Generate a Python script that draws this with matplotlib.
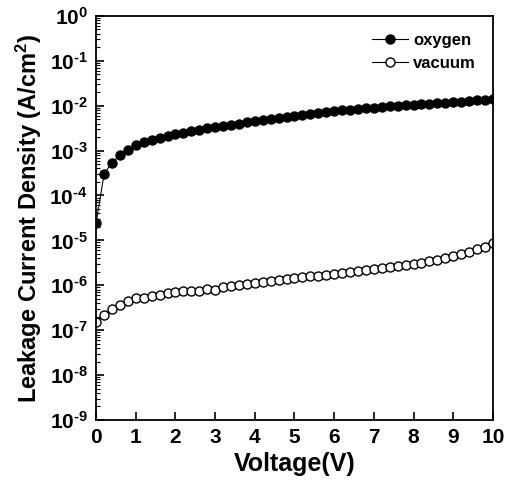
import numpy as np
import matplotlib
matplotlib.use('Agg')
import matplotlib.pyplot as plt
from matplotlib.ticker import LogLocator, FuncFormatter, NullFormatter

plt.rcParams['font.family'] = ['Liberation Sans', 'DejaVu Sans']
plt.rcParams['font.weight'] = 'bold'
plt.rcParams['mathtext.fontset'] = 'custom'
plt.rcParams['mathtext.rm'] = 'Liberation Sans:bold'
plt.rcParams['mathtext.bf'] = 'Liberation Sans:bold'
plt.rcParams['mathtext.default'] = 'bf'

# Bias voltage (V)
voltage = [0.0, 0.2, 0.4, 0.6, 0.8, 1.0, 1.2, 1.4, 1.6, 1.8,
           2.0, 2.2, 2.4, 2.6, 2.8, 3.0, 3.2, 3.4, 3.6, 3.8,
           4.0, 4.2, 4.4, 4.6, 4.8, 5.0, 5.2, 5.4, 5.6, 5.8,
           6.0, 6.2, 6.4, 6.6, 6.8, 7.0, 7.2, 7.4, 7.6, 7.8,
           8.0, 8.2, 8.4, 8.6, 8.8, 9.0, 9.2, 9.4, 9.6, 9.8, 10.0]

# Leakage current density (A/cm^2), annealed in oxygen
oxygen = [2.5e-5, 3.0e-4, 5.4e-4, 7.8e-4, 1.05e-3, 1.3e-3, 1.55e-3, 1.75e-3, 1.9e-3, 2.1e-3,
          2.3e-3, 2.5e-3, 2.7e-3, 2.9e-3, 3.1e-3, 3.3e-3, 3.5e-3, 3.75e-3, 4.0e-3, 4.25e-3,
          4.5e-3, 4.8e-3, 5.1e-3, 5.4e-3, 5.7e-3, 6.0e-3, 6.3e-3, 6.6e-3, 6.9e-3, 7.2e-3,
          7.5e-3, 7.8e-3, 8.1e-3, 8.4e-3, 8.7e-3, 9.0e-3, 9.3e-3, 9.6e-3, 9.9e-3, 1.02e-2,
          1.05e-2, 1.08e-2, 1.11e-2, 1.14e-2, 1.17e-2, 1.2e-2, 1.23e-2, 1.27e-2, 1.31e-2, 1.36e-2, 1.42e-2]

# Leakage current density (A/cm^2), annealed in vacuum
vacuum = [1.5e-7, 2.2e-7, 2.9e-7, 3.7e-7, 4.4e-7, 5.2e-7, 5.1e-7, 5.7e-7, 6.1e-7, 6.7e-7,
          7.0e-7, 7.4e-7, 7.6e-7, 7.6e-7, 8.4e-7, 7.9e-7, 9.2e-7, 9.8e-7, 1.03e-6, 1.08e-6,
          1.12e-6, 1.18e-6, 1.24e-6, 1.3e-6, 1.36e-6, 1.43e-6, 1.5e-6, 1.57e-6, 1.64e-6, 1.72e-6,
          1.8e-6, 1.88e-6, 1.97e-6, 2.06e-6, 2.16e-6, 2.26e-6, 2.37e-6, 2.5e-6, 2.63e-6, 2.78e-6,
          2.95e-6, 3.15e-6, 3.4e-6, 3.7e-6, 4.05e-6, 4.5e-6, 5.0e-6, 5.6e-6, 6.3e-6, 7.3e-6, 8.8e-6]


def decade_label(val, pos):
    n = int(round(np.log10(val)))
    if n < 0:
        return r'$10^{\text{-}%d}$' % (-n)
    return r'$10^{%d}$' % n


fig = plt.figure(figsize=(5.06, 4.80), dpi=100)
ax = fig.add_axes([0.19, 0.125, 0.784, 0.842])

ax.plot(voltage, oxygen, '-o', color='black', lw=0.8, ms=6.5,
        mfc='black', mec='black', label='oxygen')
ax.plot(voltage, vacuum, '-o', color='black', lw=0.8, ms=6.5,
        mfc='white', mec='black', mew=1.0, label='vacuum')

ax.set_yscale('log')
ax.set_xlim(0, 10)
ax.set_ylim(1e-9, 1)
ax.set_xticks(range(0, 11))
ax.yaxis.set_major_locator(LogLocator(base=10, numticks=12))
ax.yaxis.set_major_formatter(FuncFormatter(decade_label))
ax.yaxis.set_minor_locator(LogLocator(base=10, subs=np.arange(2, 10), numticks=12))
ax.yaxis.set_minor_formatter(NullFormatter())

ax.tick_params(axis='both', which='major', direction='in', length=6, width=1.2,
               labelsize=15, pad=6, right=False, top=False)
ax.tick_params(axis='y', which='minor', direction='in', length=3, width=0.8, right=False)
for lab in ax.get_xticklabels() + ax.get_yticklabels():
    lab.set_fontweight('bold')
for sp in ax.spines.values():
    sp.set_linewidth(1.3)

ax.set_xlabel('Voltage(V)', fontsize=18, fontweight='bold', labelpad=3)
ax.set_ylabel('Leakage Current Density (A/cm$^2$)', fontsize=17, fontweight='bold', labelpad=4)

ax.legend(loc='upper right', frameon=False, handlelength=2.2,
          handletextpad=0.3, labelspacing=0.5, borderaxespad=0.6,
          prop={'weight': 'bold', 'size': 12})

fig.savefig('out.png', dpi=100)
